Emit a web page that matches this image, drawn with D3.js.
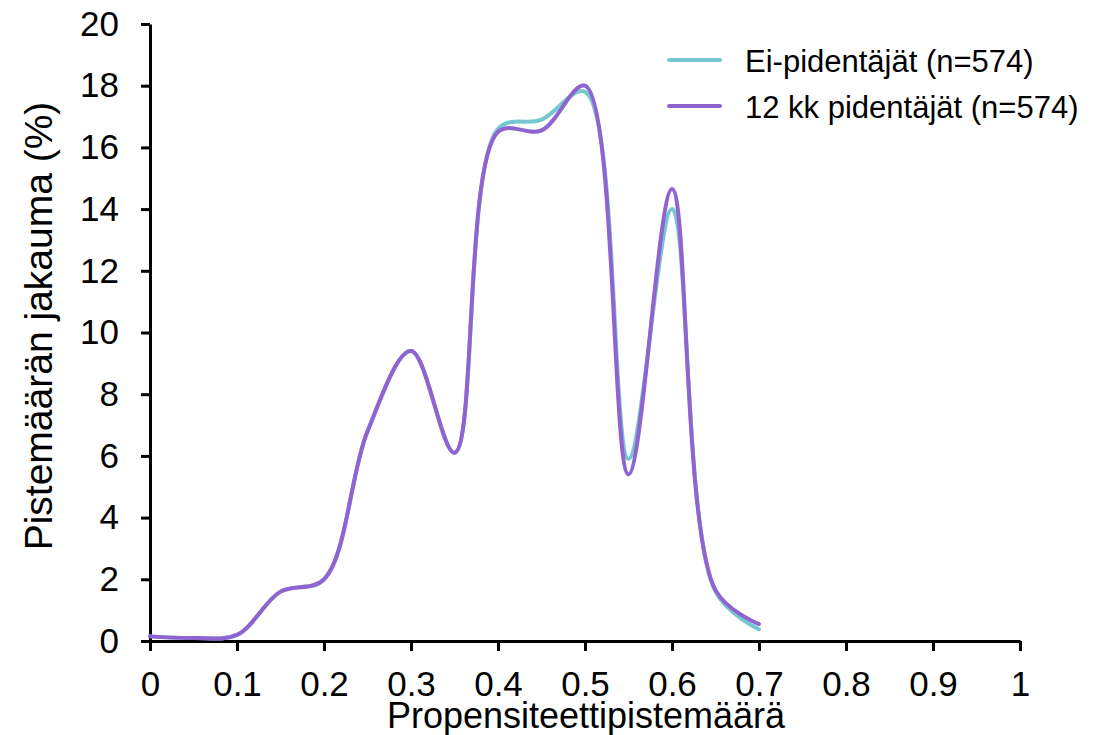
<!DOCTYPE html>
<html>
<head>
<meta charset="utf-8">
<script src="https://cdn.jsdelivr.net/npm/d3@7"></script>
<style>
    body { margin: 0; background: #fff; }
    text { font-family: "Liberation Sans", Arial, sans-serif; fill: #000; }
</style>
</head>
<body>
<div id="viz"></div>
<script>
// Data
var xValues = [0, 0.05, 0.1, 0.15, 0.2, 0.25, 0.3, 0.35, 0.4, 0.45, 0.5, 0.55, 0.6, 0.65, 0.7];
var eiPidentajat = [0.15, 0.1, 0.2, 1.6, 2.0, 6.8, 9.4, 6.1, 16.6, 16.9, 17.8, 5.9, 14.0, 1.6, 0.38];
var pidentajat12 = [0.15, 0.1, 0.2, 1.6, 2.0, 6.8, 9.4, 6.1, 16.5, 16.55, 18.0, 5.4, 14.65, 1.65, 0.55];
var seriesNames = ['Ei-pidentäjät (n=574)', '12 kk pidentäjät (n=574)'];
var seriesColors = ['#76c8d0', '#9064d0'];
var xTicks = [0, 0.1, 0.2, 0.3, 0.4, 0.5, 0.6, 0.7, 0.8, 0.9, 1];
var yTicks = [0, 2, 4, 6, 8, 10, 12, 14, 16, 18, 20];

var width = 1105;
var height = 735;
var margin = { top: 24, right: 85, bottom: 94, left: 150 };

var svg = d3.select('#viz')
    .append('svg')
    .attr('width', width)
    .attr('height', height);

var x = d3.scaleLinear().domain([0, 1]).range([margin.left, width - margin.right]);
var y = d3.scaleLinear().domain([0, 20]).range([height - margin.bottom, margin.top]);

// Axes
var xAxis = svg.append('g')
    .attr('transform', 'translate(0,' + y(0) + ')')
    .call(d3.axisBottom(x).tickValues(xTicks).tickSize(10).tickSizeOuter(0).tickPadding(20)
        .tickFormat(function (d) { return d3.format('~g')(d); }));

var yAxis = svg.append('g')
    .attr('transform', 'translate(' + x(0) + ',0)')
    .call(d3.axisLeft(y).tickValues(yTicks).tickSize(9).tickSizeOuter(0).tickPadding(22));

[xAxis, yAxis].forEach(function (g) {
    g.select('.domain').attr('stroke', '#000').attr('stroke-width', 3);
    g.selectAll('.tick line').attr('stroke', '#000').attr('stroke-width', 3);
    g.selectAll('.tick text').style('font-size', '35px').attr('fill', '#000');
});

// Axis titles
svg.append('text')
    .attr('x', 586)
    .attr('y', 728)
    .attr('text-anchor', 'middle')
    .style('font-size', '36px')
    .text('Propensiteettipistemäärä');

svg.append('text')
    .attr('transform', 'translate(52,326) rotate(-90)')
    .attr('text-anchor', 'middle')
    .style('font-size', '39px')
    .text('Pistemäärän jakauma (%)');

// Lines
var line = d3.line()
    .x(function (d) { return x(d[0]); })
    .y(function (d) { return y(d[1]); })
    .curve(d3.curveCatmullRom.alpha(0.5));

[eiPidentajat, pidentajat12].forEach(function (vals, i) {
    svg.append('path')
        .datum(vals.map(function (v, j) { return [xValues[j], v]; }))
        .attr('fill', 'none')
        .attr('stroke', seriesColors[i])
        .attr('stroke-width', 4)
        .attr('stroke-linejoin', 'round')
        .attr('stroke-linecap', 'round')
        .attr('d', line);
});

// Legend
var legend = svg.append('g');
seriesNames.forEach(function (name, i) {
    var ly = 60 + i * 46;
    legend.append('line')
        .attr('x1', 669).attr('x2', 720)
        .attr('y1', ly).attr('y2', ly)
        .attr('stroke', seriesColors[i])
        .attr('stroke-width', 4)
        .attr('stroke-linecap', 'round');
    legend.append('text')
        .attr('x', 745)
        .attr('y', ly + 12)
        .style('font-size', '31px')
        .text(name);
});
</script>
</body>
</html>
